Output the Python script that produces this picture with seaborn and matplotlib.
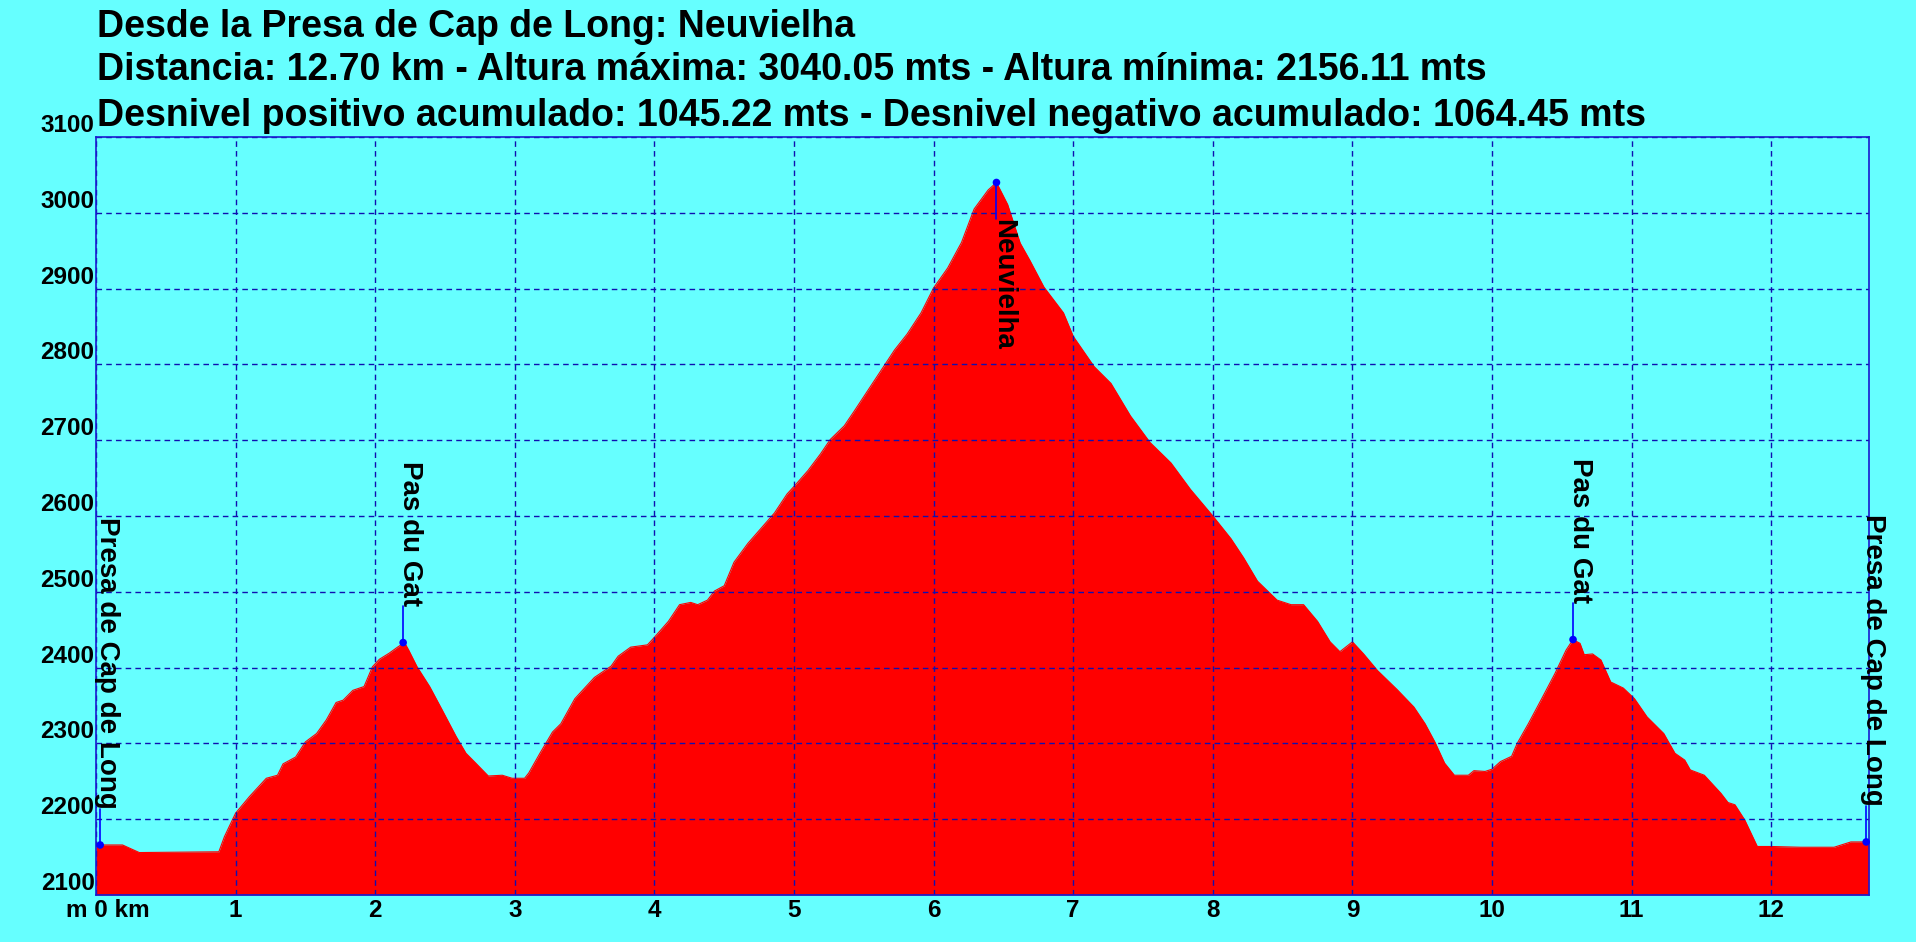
import numpy as np
import matplotlib
matplotlib.use("Agg")
import matplotlib.pyplot as plt
import matplotlib.transforms as mtransforms
import seaborn as sns
import pandas as pd

# perfil: distancia (km) y altura (m)
km = [0.00, 0.19, 0.25, 0.31, 0.88, 0.92, 1.00, 1.10, 1.22, 1.30, 1.34, 1.43, 1.50, 1.58,
      1.65, 1.72, 1.77, 1.84, 1.92, 1.98, 2.03, 2.10, 2.16, 2.21, 2.24, 2.30, 2.39, 2.48,
      2.58, 2.65, 2.72, 2.81, 2.91, 2.98, 3.07, 3.10, 3.18, 3.27, 3.33, 3.43, 3.57, 3.69,
      3.74, 3.83, 3.95, 4.00, 4.10, 4.18, 4.26, 4.31, 4.38, 4.43, 4.50, 4.57, 4.67, 4.76,
      4.86, 4.95, 5.00, 5.10, 5.19, 5.26, 5.36, 5.43, 5.53, 5.62, 5.72, 5.81, 5.91, 6.00,
      6.10, 6.20, 6.29, 6.39, 6.45, 6.53, 6.62, 6.69, 6.79, 6.93, 7.00, 7.15, 7.27, 7.41,
      7.55, 7.70, 7.84, 8.00, 8.13, 8.22, 8.32, 8.46, 8.56, 8.65, 8.75, 8.84, 8.91, 9.00,
      9.08, 9.18, 9.32, 9.44, 9.52, 9.59, 9.66, 9.73, 9.83, 9.87, 9.95, 10.00, 10.06, 10.14,
      10.18, 10.26, 10.35, 10.45, 10.53, 10.58, 10.63, 10.66, 10.72, 10.78, 10.85, 10.94,
      11.02, 11.11, 11.23, 11.31, 11.38, 11.42, 11.52, 11.64, 11.69, 11.74, 11.81, 11.90,
      12.00, 12.21, 12.45, 12.57, 12.70]
altura = [2166, 2166, 2161, 2156, 2157, 2177, 2208, 2230, 2254, 2258, 2273, 2282, 2302, 2313,
          2331, 2354, 2357, 2370, 2375, 2401, 2411, 2419, 2427, 2433, 2423, 2401, 2375, 2344,
          2309, 2287, 2274, 2257, 2258, 2254, 2254, 2261, 2287, 2315, 2326, 2359, 2387, 2402,
          2415, 2427, 2430, 2440, 2461, 2483, 2486, 2483, 2489, 2501, 2508, 2539, 2564, 2583,
          2604, 2629, 2639, 2660, 2682, 2701, 2719, 2738, 2766, 2791, 2819, 2840, 2868, 2901,
          2927, 2961, 3005, 3030, 3040, 3011, 2960, 2937, 2902, 2868, 2837, 2797, 2775, 2732,
          2697, 2670, 2635, 2600, 2570, 2545, 2514, 2489, 2483, 2483, 2461, 2434, 2421, 2434,
          2418, 2396, 2371, 2348, 2326, 2302, 2274, 2258, 2258, 2264, 2263, 2266, 2276, 2283,
          2300, 2326, 2357, 2392, 2423, 2437, 2432, 2417, 2418, 2410, 2381, 2373,
          2359, 2335, 2313, 2287, 2278, 2265, 2258, 2234, 2222, 2219, 2199, 2164,
          2164, 2163, 2163, 2170, 2170]

# puntos de paso
wp_nombre = ["Presa de Cap de Long", "Pas du Gat", "Neuvielha", "Pas du Gat", "Presa de Cap de Long"]
wp_km = [0.03, 2.20, 6.45, 10.58, 12.68]
wp_alt = [2166, 2433, 3040, 2437, 2170]
wp_abajo = [False, False, True, False, False]

x_ticks = list(range(0, 13))
x_labels = ["m 0 km"] + [str(i) for i in range(1, 13)]
y_ticks = list(range(2100, 3101, 100))

titulos = ["Desde la Presa de Cap de Long: Neuvielha",
           "Distancia: 12.70 km - Altura máxima: 3040.05 mts - Altura mínima: 2156.11 mts",
           "Desnivel positivo acumulado: 1045.22 mts - Desnivel negativo acumulado: 1064.45 mts"]

fondo = "#66ffff"
sns.set_style("white", rc={"axes.facecolor": fondo, "figure.facecolor": fondo,
                           "text.color": "black", "xtick.color": "black",
                           "ytick.color": "black", "axes.labelcolor": "black"})
plt.rcParams["font.family"] = ["Liberation Sans", "DejaVu Sans"]
plt.rcParams["font.weight"] = "bold"

fig = plt.figure(figsize=(19.16, 9.42), dpi=100)
ax = fig.add_axes([96 / 1916, 1 - 895 / 942, (1869 - 96) / 1916, (895 - 137) / 942])

df = pd.DataFrame({"km": km, "altura": altura})
ax.fill_between(df["km"], df["altura"], 2100, color="#ff0000", linewidth=0, zorder=1)
sns.lineplot(data=df, x="km", y="altura", ax=ax, color="#ff0000", linewidth=0.8, zorder=1.5)

ax.set_xlim(0, 12.7)
ax.set_ylim(2100, 3100)
ax.set_xticks(x_ticks)
ax.set_xticklabels(x_labels, fontsize=17.5, fontweight="bold", color="black")
ax.set_yticks(y_ticks)
ax.set_yticklabels([str(v) for v in y_ticks], fontsize=17.5, fontweight="bold", color="black")
ax.set_xlabel("")
ax.set_ylabel("")
ax.tick_params(axis="both", length=0, pad=3)
ax.tick_params(axis="y", pad=1)
for lab in ax.get_yticklabels():
    lab.set_va("bottom")
# "m 0 km" desplazado para que el 0 quede sobre el eje
lab0 = ax.get_xticklabels()[0]
lab0.set_transform(lab0.get_transform() + mtransforms.ScaledTranslation(0.12, 0, fig.dpi_scale_trans))

ax.set_axisbelow(False)
ax.grid(True, color="#1010b0", linestyle=(0, (4, 3)), linewidth=1.0, zorder=2)
for s in ax.spines.values():
    s.set_color("#1a1ad0")
    s.set_linewidth(1.2)
    s.set_zorder(3)

# marcas de los puntos de paso
off = 48
for nombre, x, y, abajo in zip(wp_nombre, wp_km, wp_alt, wp_abajo):
    yt = y - off if abajo else y + off
    ax.plot([x, x], [y, yt], color="#0000ff", linewidth=1.2, zorder=4, clip_on=False)
    ax.text(x, yt, nombre, rotation=-90, rotation_mode="anchor",
            ha="left" if abajo else "right", va="baseline",
            fontsize=20, fontweight="bold", color="black", zorder=5, clip_on=False)
sns.scatterplot(x=wp_km, y=wp_alt, ax=ax, color="#0000ff", s=30, edgecolor="none", zorder=6, clip_on=False)

for t, yb in zip(titulos, [37, 80, 126]):
    fig.text(97 / 1916, 1 - yb / 942, t, fontsize=27, fontweight="bold", va="baseline",
             ha="left", color="black")

fig.savefig("out.png", dpi=100, facecolor=fondo)
